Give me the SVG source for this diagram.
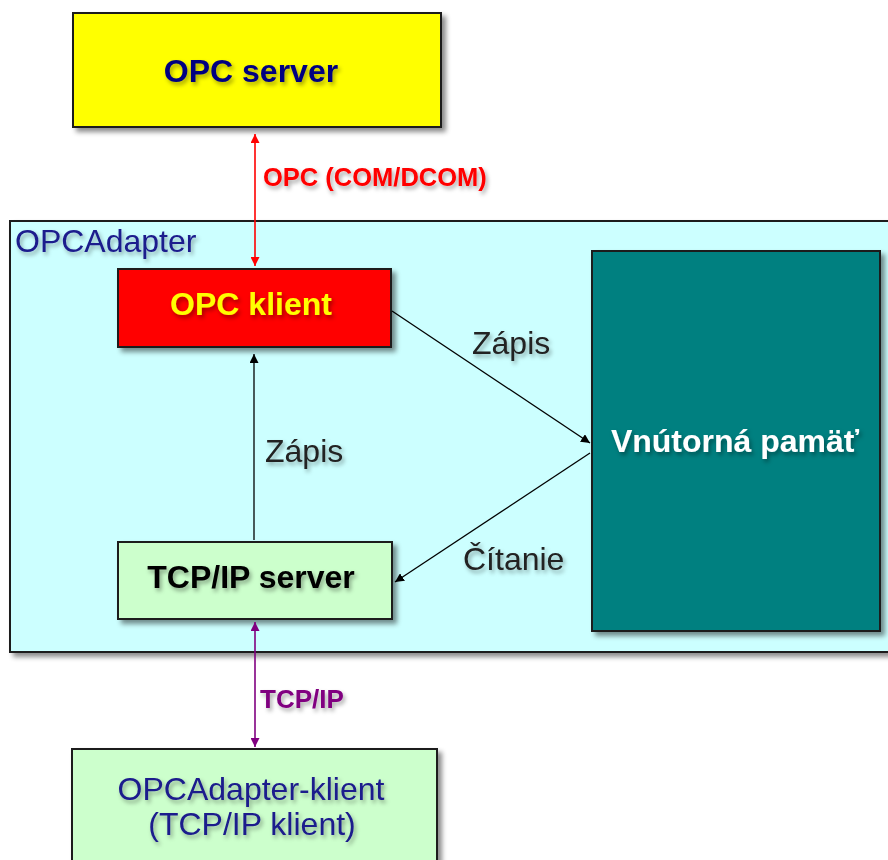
<svg xmlns="http://www.w3.org/2000/svg" width="888" height="860" viewBox="0 0 888 860">
<defs>
<filter id="sh" x="-10%" y="-10%" width="130%" height="130%">
<feDropShadow dx="4" dy="4" stdDeviation="2.5" flood-color="#000" flood-opacity="0.45"/>
</filter>
<filter id="tsh" x="-10%" y="-20%" width="130%" height="160%">
<feDropShadow dx="2" dy="3" stdDeviation="2" flood-color="#000" flood-opacity="0.35"/>
</filter>
<marker id="ar" viewBox="0 0 10 10" refX="10" refY="5" markerWidth="9" markerHeight="9" markerUnits="userSpaceOnUse" orient="auto-start-reverse">
<path d="M0,0 L10,5 L0,10 z" fill="#000"/>
</marker>
<marker id="arR" viewBox="0 0 10 10" refX="10" refY="5" markerWidth="11" markerHeight="9" markerUnits="userSpaceOnUse" orient="auto-start-reverse">
<path d="M0,0 L10,5 L0,10 z" fill="#ff0000"/>
</marker>
<marker id="arP" viewBox="0 0 10 10" refX="10" refY="5" markerWidth="11" markerHeight="9" markerUnits="userSpaceOnUse" orient="auto-start-reverse">
<path d="M0,0 L10,5 L0,10 z" fill="#800080"/>
</marker>
</defs>
<style>
.box{stroke:#1a1a1a;stroke-width:2;filter:url(#sh)}
.bold{font-family:"Liberation Sans",Arial,sans-serif;font-weight:bold}
.norm{font-family:"Liberation Sans",Arial,sans-serif}
.t{filter:url(#tsh)}
.ln{fill:none;stroke:#000;stroke-width:1.3}
</style>
<rect width="888" height="860" fill="#fff"/>

<g id="opcadapter">
<rect class="box" x="10" y="221" width="890" height="431" fill="#ccffff"/>
<text class="norm t" x="15" y="252" font-size="32" fill="#1a1a8c">OPCAdapter</text>
</g>

<g id="opc-server">
<rect class="box" x="73" y="13" width="368" height="114" fill="#ffff00"/>
<text class="bold t" x="251" y="82" font-size="32" fill="#000080" text-anchor="middle">OPC server</text>
</g>

<g id="opc-klient">
<rect class="box" x="118" y="269" width="273" height="78" fill="#ff0000"/>
<text class="bold t" x="251" y="315" font-size="32" fill="#ffff00" text-anchor="middle">OPC klient</text>
</g>

<g id="vnutorna-pamat">
<rect class="box" x="592" y="251" width="288" height="380" fill="#008080"/>
<text class="bold t" x="735" y="452" font-size="32" fill="#ffffff" text-anchor="middle">Vnútorná pamäť</text>
</g>

<g id="tcpip-server">
<rect class="box" x="118" y="542" width="274" height="77" fill="#ccffcc"/>
<text class="bold t" x="251" y="588" font-size="32" fill="#000" text-anchor="middle">TCP/IP server</text>
</g>

<g id="opcadapter-klient">
<rect class="box" x="72" y="749" width="365" height="130" fill="#ccffcc"/>
<text class="norm t" x="251" y="800" font-size="32" fill="#1a1a8c" text-anchor="middle">OPCAdapter-klient</text>
<text class="norm t" x="252" y="835" font-size="32" fill="#1a1a8c" text-anchor="middle">(TCP/IP klient)</text>
</g>

<g id="connectors">
<line x1="255" y1="134" x2="255" y2="266" stroke="#ff0000" stroke-width="1.6" marker-start="url(#arR)" marker-end="url(#arR)"/>
<text class="bold t" x="263" y="186" font-size="25.5" fill="#ff0000">OPC (COM/DCOM)</text>

<line class="ln" x1="254" y1="540" x2="254" y2="354" marker-end="url(#ar)"/>
<text class="norm t" x="265" y="462" font-size="32" fill="#222">Zápis</text>

<line class="ln" x1="392" y1="311" x2="590" y2="443" marker-end="url(#ar)"/>
<text class="norm t" x="472" y="354" font-size="32" fill="#222">Zápis</text>

<line class="ln" x1="590" y1="453" x2="395" y2="582" marker-end="url(#ar)"/>
<text class="norm t" x="463" y="570" font-size="32" fill="#222">Čítanie</text>

<line x1="255" y1="622" x2="255" y2="747" stroke="#800080" stroke-width="1.6" marker-start="url(#arP)" marker-end="url(#arP)"/>
<text class="bold t" x="260" y="708" font-size="26" fill="#800080">TCP/IP</text>
</g>
</svg>
